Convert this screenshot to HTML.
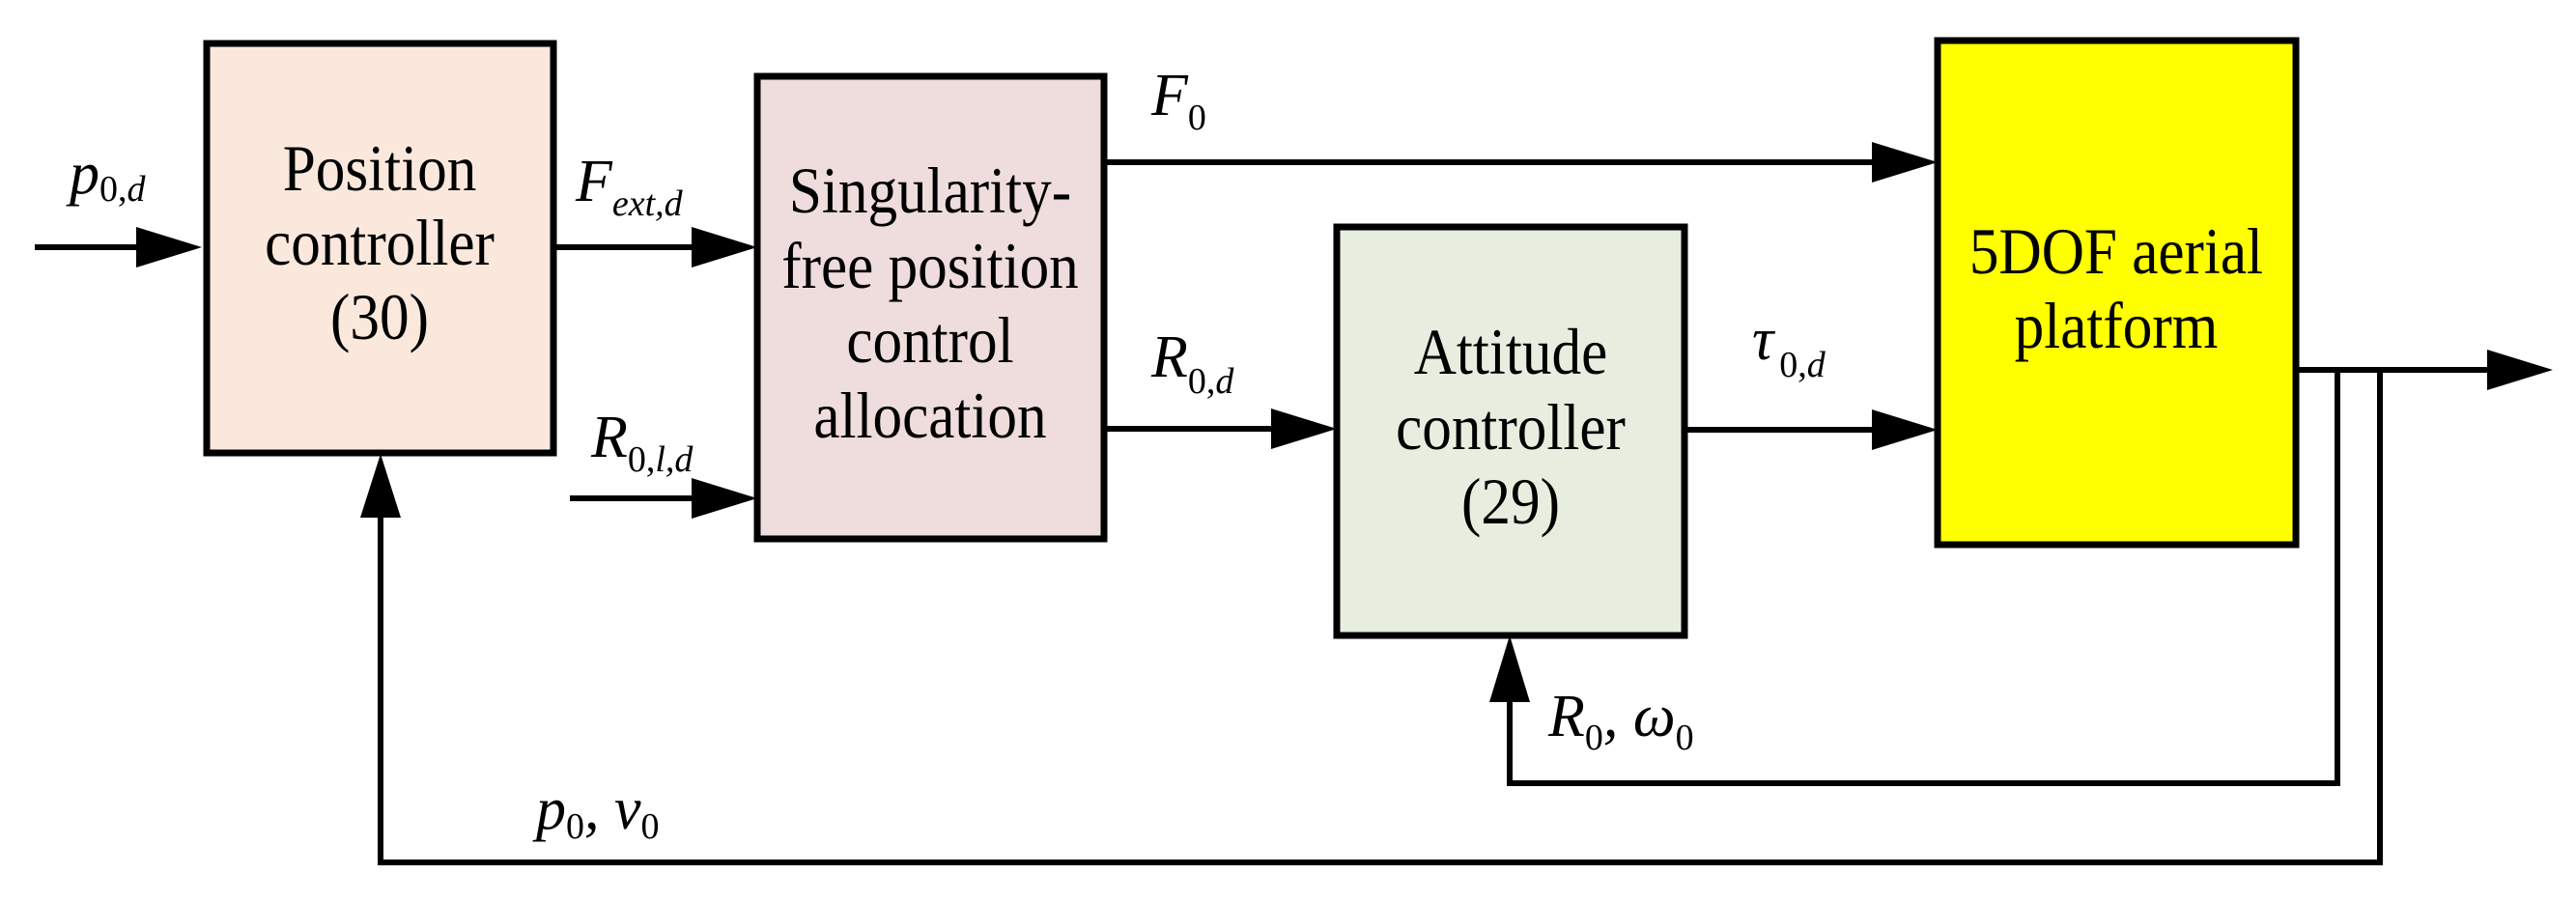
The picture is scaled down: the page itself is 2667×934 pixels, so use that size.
<!DOCTYPE html>
<html><head><meta charset="utf-8"><style>
html,body{margin:0;padding:0;background:#fff;}
svg{display:block;}
text{font-family:"Liberation Serif",serif;fill:#000;}
.b{font-size:68px;text-anchor:middle;}
.i{font-style:italic;font-size:62px;}
.s{font-style:italic;font-size:38px;}
.n{font-style:normal;font-size:38px;}
</style></head><body>
<svg width="2667" height="934" viewBox="0 0 2667 934" xmlns="http://www.w3.org/2000/svg">
<g stroke="#000" stroke-width="7">
<rect x="214" y="45" width="359" height="424" fill="#fae8dc"/>
<rect x="784" y="79" width="359" height="479" fill="#efdcdc"/>
<rect x="1384" y="235" width="360" height="423" fill="#e8eedf"/>
<rect x="2006" y="42" width="371" height="522" fill="#ffff00"/>
</g>
<g stroke="#000" stroke-width="6" fill="none">
<line x1="36" y1="256" x2="150" y2="256"/>
<line x1="573" y1="256" x2="720" y2="256"/>
<line x1="590" y1="516" x2="720" y2="516"/>
<line x1="1143" y1="168" x2="1940" y2="168"/>
<line x1="1143" y1="444" x2="1320" y2="444"/>
<line x1="1744" y1="445" x2="1940" y2="445"/>
<line x1="2377" y1="383" x2="2590" y2="383"/>
<polyline points="2420,383 2420,811 1563,811 1563,720"/>
<polyline points="2464,383 2464,893 394,893 394,530"/>
</g>
<g fill="#000">
<polygon points="141,235 209,256 141,277"/>
<polygon points="716,235 784,256 716,277"/>
<polygon points="716,495 784,516 716,537"/>
<polygon points="1938,147 2006,168 1938,189"/>
<polygon points="1316,423 1384,444 1316,465"/>
<polygon points="1938,424 2006,445 1938,466"/>
<polygon points="2575,362 2643,383 2575,404"/>
<polygon points="1542,727 1563,658 1584,727"/>
<polygon points="373,536 394,470 415,536"/>
</g>
<text class="b" transform="translate(393,197) scale(0.9,1)">Position</text>
<text class="b" transform="translate(393,274) scale(0.9,1)">controller</text>
<text class="b" transform="translate(393,351) scale(0.9,1)">(30)</text>
<text class="b" transform="translate(963,220) scale(0.9,1)">Singularity-</text>
<text class="b" transform="translate(963,298) scale(0.9,1)">free position</text>
<text class="b" transform="translate(963,375) scale(0.9,1)">control</text>
<text class="b" transform="translate(963,453) scale(0.9,1)">allocation</text>
<text class="b" transform="translate(1564,387) scale(0.9,1)">Attitude</text>
<text class="b" transform="translate(1564,465) scale(0.9,1)">controller</text>
<text class="b" transform="translate(1564,542) scale(0.9,1)">(29)</text>
<text class="b" transform="translate(2191,283) scale(0.9,1)">5DOF aerial</text>
<text class="b" transform="translate(2191,360) scale(0.9,1)">platform</text>
<text class="i" x="72" y="200">p<tspan class="n" dy="8">0,</tspan><tspan class="s">d</tspan></text>
<text class="i" x="596" y="208">F<tspan class="s" dy="15">ext,d</tspan></text>
<text class="i" x="1192" y="119">F<tspan class="n" dy="15">0</tspan></text>
<text class="i" x="1192" y="390">R<tspan class="n" dy="17">0,</tspan><tspan class="s">d</tspan></text>
<text class="i" x="612" y="473">R<tspan class="n" dy="15">0,</tspan><tspan class="s">l,d</tspan></text>
<text class="i" x="555" y="858">p<tspan class="n" dy="10">0</tspan><tspan dy="-10">, v</tspan><tspan class="n" dy="10">0</tspan></text>
<text class="i" x="1814" y="372">τ<tspan class="n" dy="18" dx="6">0,</tspan><tspan class="s">d</tspan></text>
<text class="i" x="1603" y="762">R<tspan class="n" dy="14">0</tspan><tspan dy="-14">, ω</tspan><tspan class="n" dy="14">0</tspan></text>
</svg>
</body></html>
